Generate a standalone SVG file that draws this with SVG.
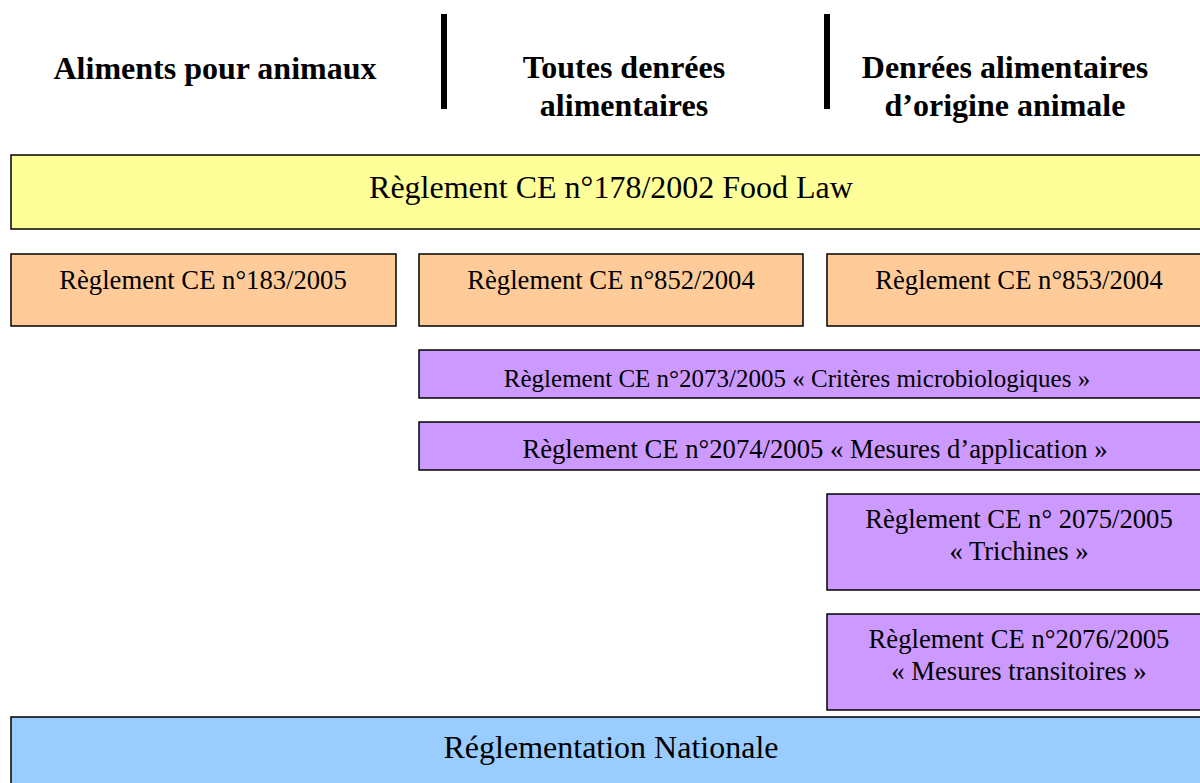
<svg xmlns="http://www.w3.org/2000/svg" width="1200" height="783" viewBox="0 0 1200 783">
<style>
text{font-family:"Liberation Serif","Times New Roman",serif;fill:#000;text-anchor:middle}
.h{font-size:32px;font-weight:bold}
.box{stroke:#000;stroke-width:1.5}
.y{fill:#FFFF99}.o{fill:#FFCC99}.p{fill:#CC99FF}.b{fill:#99CCFF}
.big{font-size:32px}.mid{font-size:26.67px}
.bar{fill:#000}
</style>
<rect width="1200" height="783" fill="#fff"/>
<g id="headers">
<text class="h" x="215" y="79">Aliments pour animaux</text>
<text class="h" x="624" y="78">Toutes denrées</text>
<text class="h" x="624" y="116">alimentaires</text>
<text class="h" x="1005" y="78">Denrées alimentaires</text>
<text class="h" x="1005" y="116">d’origine animale</text>
<rect class="bar" x="441" y="14" width="6" height="95"/>
<rect class="bar" x="824" y="14" width="6" height="95"/>
</g>
<g id="food-law"><rect class="box y" x="11" y="155" width="1200" height="74"/><text class="big" x="611" y="198">Règlement CE n°178/2002 Food Law</text></g>
<g id="r183"><rect class="box o" x="11" y="254" width="385" height="72"/><text class="mid" x="203" y="289">Règlement CE n°183/2005</text></g>
<g id="r852"><rect class="box o" x="419" y="254" width="384" height="72"/><text class="mid" x="611" y="289">Règlement CE n°852/2004</text></g>
<g id="r853"><rect class="box o" x="827" y="254" width="384" height="72"/><text class="mid" x="1019" y="289">Règlement CE n°853/2004</text></g>
<g id="r2073"><rect class="box p" x="419" y="350" width="800" height="48"/><text class="mid" x="797" y="387" style="font-size:25px">Règlement CE n°2073/2005 « Critères microbiologiques »</text></g>
<g id="r2074"><rect class="box p" x="419" y="422" width="800" height="48"/><text class="mid" x="815" y="458">Règlement CE n°2074/2005 « Mesures d’application »</text></g>
<g id="r2075"><rect class="box p" x="827" y="494" width="384" height="96"/><text class="mid" x="1019" y="528">Règlement CE n° 2075/2005</text><text class="mid" x="1019" y="560">« Trichines »</text></g>
<g id="r2076"><rect class="box p" x="827" y="614" width="384" height="96"/><text class="mid" x="1019" y="648">Règlement CE n°2076/2005</text><text class="mid" x="1019" y="680">« Mesures transitoires »</text></g>
<g id="nationale"><rect class="box b" x="11" y="717" width="1200" height="80"/><text class="big" x="611" y="758">Réglementation Nationale</text></g>
<g id="connectors"></g>
</svg>
